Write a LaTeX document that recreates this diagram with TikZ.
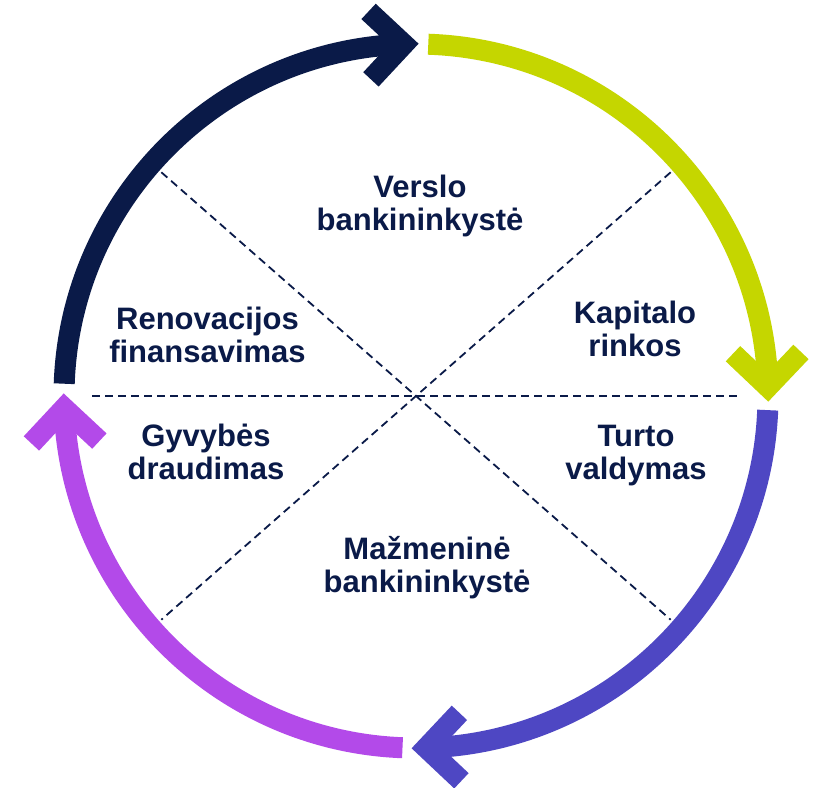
\documentclass[tikz,border=0pt]{standalone}
\usepackage{fontspec}
\setmainfont{Liberation Sans}
\usepackage{tikz}
\usetikzlibrary{calc}
\definecolor{navy}{HTML}{0A1A48}
\definecolor{lime}{HTML}{C5D600}
\definecolor{indigo}{HTML}{4E47C3}
\definecolor{violet}{HTML}{B34AE9}

\begin{document}
\begin{tikzpicture}[x=1pt, y=-1pt,
  ring/.style={line width=21, line cap=butt},
  divider/.style={navy, line width=1.8, dash pattern=on 8pt off 5pt},
  seg/.style={font=\bfseries\fontsize{31}{33}\selectfont, text=navy, align=center, inner sep=0pt},
  chev/.pic={\draw[line width=21, line join=miter, line cap=butt] (-34,-34) -- (0,0) -- (-34,34);}]
\useasboundingbox (0,0) rectangle (815,788);
\fill[white] (0,0) rectangle (815,788);
\coordinate (c) at (416,396);
%
\draw[divider] ($(c)+(-324,0)$) -- ($(c)+(324,0)$);
\draw[divider] ($(c)+(221.3:339)$) -- ($(c)+(41.3:339)$);
\draw[divider] ($(c)+(318.7:339)$) -- ($(c)+(138.7:339)$);
%
\draw[ring, navy] ($(c)+(182:352)$) arc[start angle=182, end angle=268, radius=352];
\pic[color=navy, rotate=2] at ($(c)+(268:352)$) {chev};
\draw[ring, lime] ($(c)+(272:352)$) arc[start angle=272, end angle=358.5, radius=352];
\pic[color=lime, rotate=-88.5] at ($(c)+(358.5:352)$) {chev};
\draw[ring, indigo] ($(c)+(2.3:352)$) arc[start angle=2.3, end angle=88.3, radius=352];
\pic[color=indigo, rotate=181.7] at ($(c)+(88.3:352)$) {chev};
\draw[ring, violet] ($(c)+(92.2:352)$) arc[start angle=92.2, end angle=178, radius=352];
\pic[color=violet, rotate=92] at ($(c)+(178:352)$) {chev};
%
\node[seg] (verslo) at (420,205.5) {Verslo\\bankininkystė};
\node[seg] (kapitalo) at (635,329) {Kapitalo\\rinkos};
\node[seg] (turto) at (636,455.7) {Turto\\valdymas};
\node[seg] (mazmenine) at (427,567.8) {Mažmeninė\\bankininkystė};
\node[seg] (gyvybes) at (206,452) {Gyvybės\\draudimas};
\node[seg] (renovacijos) at (207.5,335) {Renovacijos\\finansavimas};
%
\end{tikzpicture}
\end{document}
